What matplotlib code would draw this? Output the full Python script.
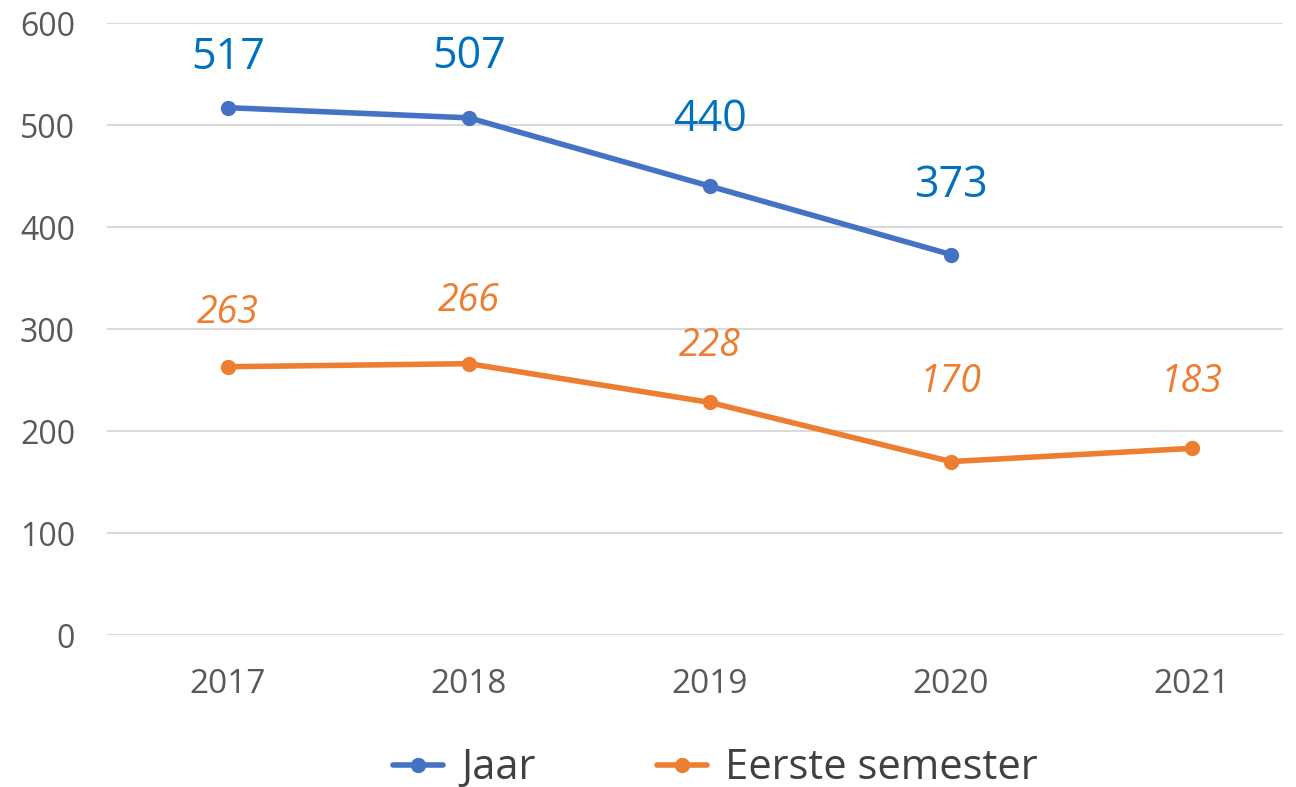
import matplotlib.pyplot as plt
import numpy as np

plt.rcParams['font.family'] = ['Open Sans', 'DejaVu Sans']

years = ['2017', '2018', '2019', '2020', '2021']
jaar = [517, 507, 440, 373]
eerste_semester = [263, 266, 228, 170, 183]

# label offsets (pixels above the point), labels were hand-placed in the original
jaar_offsets = [50, 61, 66, 69]
sem_offsets = [54, 63, 56, 80, 66]

blue = '#4472C4'
orange = '#ED7D31'

fig = plt.figure(figsize=(12.96, 7.87), dpi=100)
ax = fig.add_axes([107/1296, 152/787, 1176/1296, 612/787])

x = np.arange(len(years))
ax.plot(x[:len(jaar)], jaar, color=blue, lw=4, marker='o', ms=10,
        solid_capstyle='round', label='Jaar')
ax.plot(x, eerste_semester, color=orange, lw=4, marker='o', ms=10,
        solid_capstyle='round', label='Eerste semester')

for xi, v, off in zip(x, jaar, jaar_offsets):
    ax.annotate(str(v), (xi, v), xytext=(0, off * 0.72), textcoords='offset points',
                ha='center', va='center', fontsize=31, color='#0070C0')
for xi, v, off in zip(x, eerste_semester, sem_offsets):
    ax.annotate(str(v), (xi, v), xytext=(0, off * 0.72), textcoords='offset points',
                ha='center', va='center', fontsize=27, color=orange, style='italic')

ax.set_xlim(-0.502, 4.378)
ax.set_ylim(0, 600)
ax.set_yticks(range(0, 601, 100))
ax.set_xticks(x, years)
ax.grid(axis='y', color='#D9D9D9', lw=1.5)
ax.set_axisbelow(True)
for s in ax.spines.values():
    s.set_visible(False)
ax.tick_params(length=0, labelsize=23, labelcolor='#595959')
ax.tick_params(axis='x', labelsize=24, pad=24)
ax.tick_params(axis='y', pad=23)
for t in ax.get_yticklabels():
    t.set_ha('right')

fig.legend(loc='center', bbox_to_anchor=(0.552, 0.024), ncol=2, frameon=False,
           fontsize=30, handlelength=1.2, columnspacing=2.9, labelcolor='#404040',
           handletextpad=0.45, borderpad=0)

fig.savefig('out.png', dpi=100)
